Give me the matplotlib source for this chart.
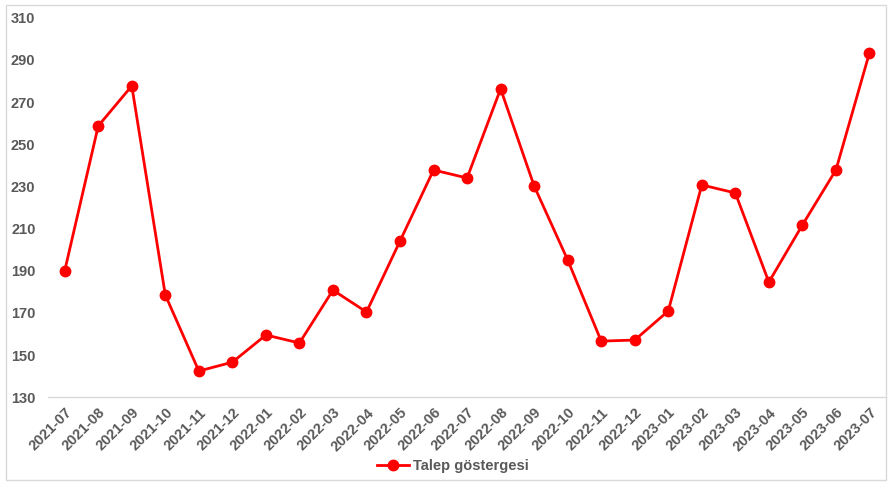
import matplotlib.pyplot as plt
from matplotlib.patches import Rectangle

months = ['2021-07', '2021-08', '2021-09', '2021-10', '2021-11', '2021-12',
          '2022-01', '2022-02', '2022-03', '2022-04', '2022-05', '2022-06',
          '2022-07', '2022-08', '2022-09', '2022-10', '2022-11', '2022-12',
          '2023-01', '2023-02', '2023-03', '2023-04', '2023-05', '2023-06',
          '2023-07']
talep = [190.0, 258.7, 277.7, 178.5, 142.4, 146.6,
         159.5, 155.7, 180.8, 170.4, 204.1, 237.8,
         234.0, 276.3, 230.2, 195.1, 156.6, 157.1,
         170.9, 230.7, 226.9, 184.6, 211.7, 237.8,
         293.4]
yticks = list(range(130, 311, 20))

plt.rcParams['font.family'] = ['Liberation Sans', 'DejaVu Sans']
grey = '#595959'

fig = plt.figure(figsize=(8.88, 4.82), dpi=100)
ax = fig.add_axes([0.054, 0.176, 0.944, 0.787])

x = list(range(len(months)))
ax.plot(x, talep, color='#ff0000', linewidth=2.0, marker='o', markersize=7.5,
        label='Talep göstergesi')

ax.set_xlim(-0.5, len(months) - 0.5)
ax.set_ylim(130, 310)
ax.set_yticks(yticks)
ax.set_xticks(x)
ax.set_xticklabels(months, rotation=45, ha='right', rotation_mode='anchor')
ax.tick_params(axis='both', length=0, labelsize=10.5, labelcolor=grey)
ax.tick_params(axis='x', pad=6)
ax.tick_params(axis='y', pad=9)
for lbl in ax.get_xticklabels() + ax.get_yticklabels():
    lbl.set_fontweight('bold')

for side in ['top', 'right', 'left']:
    ax.spines[side].set_visible(False)
ax.spines['bottom'].set_color('#d9d9d9')
ax.spines['bottom'].set_linewidth(1.0)

leg = fig.legend(loc='center', bbox_to_anchor=(0.51, 0.033), frameon=False,
                 prop={'size': 10.5, 'weight': 'bold'}, handlelength=2.2,
                 handletextpad=0.3)
for t in leg.get_texts():
    t.set_color(grey)

fig.patches.append(Rectangle((0.007, 0.004), 0.991, 0.986, transform=fig.transFigure,
                             fill=False, edgecolor='#d9d9d9', linewidth=1.0))

fig.savefig('out.png', dpi=100)
